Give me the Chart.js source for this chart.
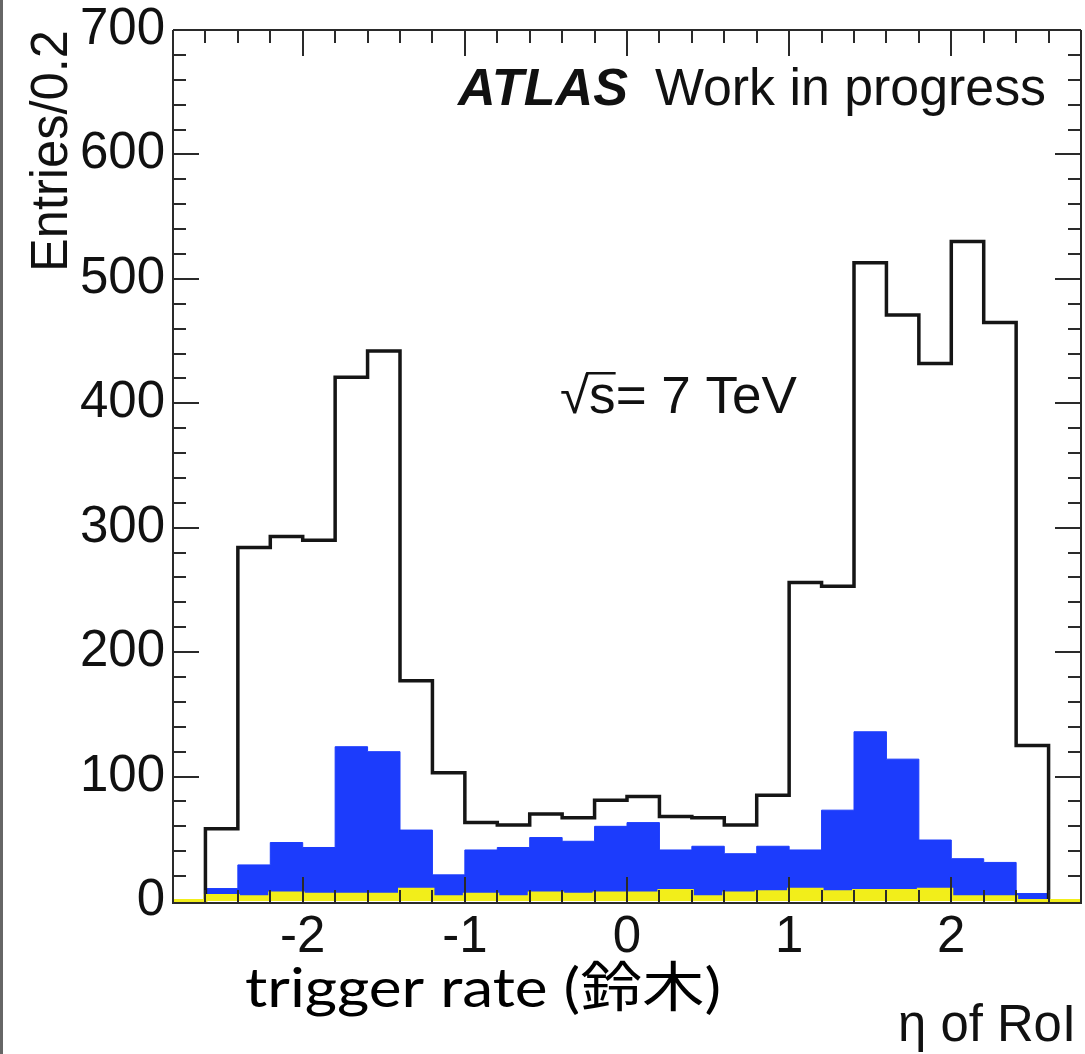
<!DOCTYPE html>
<html><head><meta charset="utf-8">
<script src="https://cdn.jsdelivr.net/npm/chart.js@4.4.1/dist/chart.umd.min.js"></script>
<style>
html,body{margin:0;padding:0;background:#fff;}
#wrap{position:relative;width:1085px;height:1054px;overflow:hidden;}
canvas{display:block;}
</style>
</head><body>
<div id="wrap"><canvas id="c" width="1085" height="1054"></canvas></div>
<script>
// ---- data ----
const binLow = [-2.6,-2.4,-2.2,-2.0,-1.8,-1.6,-1.4,-1.2,-1.0,-0.8,-0.6,-0.4,-0.2,
                 0.0, 0.2, 0.4, 0.6, 0.8, 1.0, 1.2, 1.4, 1.6, 1.8, 2.0, 2.2, 2.4];
const binWidth = 0.2;
const allEntries    = [58,284,293,290,421,442,177,103,63,61,70,67,81,84,68,67,61,85,256,253,513,471,432,530,465,125];
const blueEntries   = [10,29,47,43,124,120,57,21,41,43,51,48,60,63,41,44,38,44,41,73,136,114,49,34,31,6];
const yellowEntries = [4,3,6,5,5,5,9,3,5,3,6,5,6,6,8,3,6,7,9,7,8,8,9,3,3,0];
const xTickLabels = [-2,-1,0,1,2];
const yTickLabels = [0,100,200,300,400,500,600,700];
const xRange = [-2.8, 2.8];
const yRange = [0, 700];

// histogram outline points: each bin value sits at the bin's low edge,
// drawn with a "horizontal first" step so the value spans the bin
function histPoints(vals){
  const pts = [{x:xRange[0], y:0}];
  vals.forEach((v,i)=>pts.push({x:binLow[i], y:v}));
  pts.push({x:binLow[binLow.length-1]+binWidth, y:0});
  pts.push({x:xRange[1], y:0});
  return pts;
}

const FONT = '"Liberation Sans", Arial, Helvetica, sans-serif';

function fitText(ctx, text, font, x, y, w, align){
  ctx.save();
  ctx.font = font;
  const m = ctx.measureText(text).width;
  const s = w / m;
  ctx.translate(x, y);
  ctx.scale(s, 1);
  ctx.textAlign = align || 'left';
  ctx.textBaseline = 'alphabetic';
  ctx.fillText(text, 0, 0);
  ctx.restore();
  return s;
}

const framePlugin = {
  id: 'frameTicks',
  afterDatasetsDraw(chart){
    const {ctx, chartArea:a, scales:{x, y}} = chart;
    ctx.save();
    ctx.strokeStyle = '#2a2a2a';
    ctx.lineWidth = 2;
    ctx.beginPath();
    ctx.moveTo(a.left, a.top); ctx.lineTo(a.right, a.top);
    ctx.moveTo(a.left, a.top); ctx.lineTo(a.left, a.bottom + 3);
    ctx.moveTo(a.right, a.top); ctx.lineTo(a.right, a.bottom + 3);
    ctx.moveTo(a.left, a.bottom + 2); ctx.lineTo(a.right, a.bottom + 2);
    for (let k = -13; k <= 13; k++){
      const v = k * 0.2;
      const px = Math.round(x.getPixelForValue(v)) ;
      const len = (k % 5 === 0) ? 26 : 13;
      ctx.moveTo(px, a.bottom + 2); ctx.lineTo(px, a.bottom + 2 - len);
      ctx.moveTo(px, a.top); ctx.lineTo(px, a.top + len);
    }
    for (let k = 1; k < 35; k++){
      const v = k * 20;
      const py = Math.round(y.getPixelForValue(v));
      const len = (k % 5 === 0) ? 26 : 13;
      ctx.moveTo(a.left, py); ctx.lineTo(a.left + len, py);
      ctx.moveTo(a.right, py); ctx.lineTo(a.right - len, py);
    }
    ctx.stroke();
    ctx.restore();
  },
  afterDraw(chart){
    const ctx = chart.ctx;
    ctx.save();
    // page left border
    ctx.fillStyle = '#666';
    ctx.fillRect(0, 0, 3, 1054);
    ctx.fillStyle = '#111';
    fitText(ctx, 'ATLAS', 'italic bold 51px ' + FONT, 458, 105, 170);
    fitText(ctx, 'Work in progress', '51px ' + FONT, 655, 105, 391);
    // sqrt(s) = 7 TeV
    const s = fitText(ctx, '\u221As= 7 TeV', '51px ' + FONT, 560, 413, 237);
    ctx.font = '51px ' + FONT;
    const wr = ctx.measureText('\u221A').width * s;
    const ws = ctx.measureText('\u221As').width * s;
    ctx.fillRect(560 + wr - 3, 372, ws - wr + 3, 2.5);
    // y title
    ctx.save();
    ctx.translate(67, 30);
    ctx.rotate(-Math.PI/2);
    fitText(ctx, 'Entries/0.2', '51px ' + FONT, 0, 0, 242, 'right');
    ctx.restore();
    // x title
    fitText(ctx, '\u03B7 of RoI', '51px ' + FONT, 1076, 1041, 178, 'right');
    // caption
    ctx.fillStyle = '#000';
    fitText(ctx, 'trigger rate (\u9234\u6728)', '54px Lato, "Noto Sans CJK JP", sans-serif', 245, 1007, 476);
    ctx.restore();
  }
};

const ctx = document.getElementById('c').getContext('2d');
new Chart(ctx, {
  type: 'line',
  data: {
    datasets: [
      { label: 'yellow', data: histPoints(yellowEntries), stepped: 'before',
        borderColor: '#f2ee1a', backgroundColor: '#f2ee1a', borderWidth: 4,
        fill: 'origin', pointRadius: 0, order: 0,
        clip: {left: 0, right: 0, top: 0, bottom: 2} },
      { label: 'all', data: histPoints(allEntries), stepped: 'before',
        borderColor: '#151515', borderWidth: 3.5, fill: false, pointRadius: 0, order: 1,
        clip: {left: 0, right: 0, top: 0, bottom: 0} },
      { label: 'blue', data: histPoints(blueEntries), stepped: 'before',
        borderColor: '#1c3cfc', backgroundColor: '#1c3cfc', borderWidth: 1,
        fill: 'origin', pointRadius: 0, order: 2,
        clip: {left: 0, right: 0, top: 0, bottom: 0} }
    ]
  },
  options: {
    responsive: false,
    animation: false,
    layout: { padding: { top: 30, right: 4, left: 0, bottom: 0 } },
    plugins: { legend: { display: false }, tooltip: { enabled: false } },
    scales: {
      x: {
        type: 'linear', min: xRange[0], max: xRange[1],
        grid: { display: false, drawTicks: false }, border: { display: false },
        afterBuildTicks: (sc) => { sc.ticks = xTickLabels.map(v => ({value: v})); },
        afterFit: (sc) => { sc.height = 153; sc.paddingLeft = 0; sc.paddingRight = 0; },
        ticks: { color: '#111', padding: 6, maxRotation: 0, autoSkip: false,
                 font: { family: FONT, size: 51 }, callback: (v) => String(v) }
      },
      y: {
        type: 'linear', min: yRange[0], max: yRange[1],
        grid: { display: false, drawTicks: false }, border: { display: false },
        afterBuildTicks: (sc) => { sc.ticks = yTickLabels.map(v => ({value: v})); },
        afterFit: (sc) => { sc.width = 173; sc.paddingTop = 0; sc.paddingBottom = 0; },
        ticks: { color: '#111', padding: 8, autoSkip: false,
                 font: { family: FONT, size: 51 }, callback: (v) => String(v) }
      }
    }
  },
  plugins: [framePlugin]
});
</script>
</body></html>
